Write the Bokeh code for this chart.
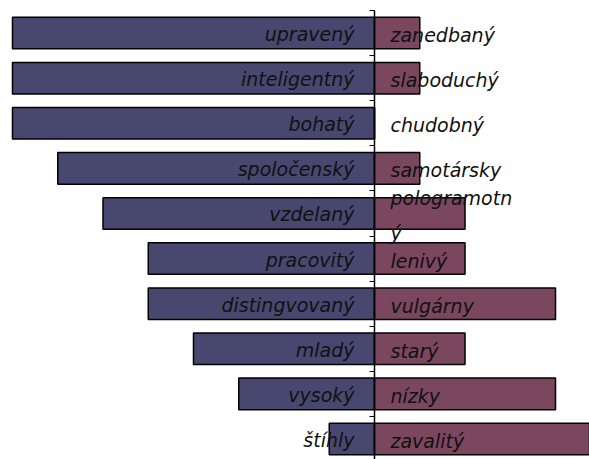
from bokeh.plotting import figure
from bokeh.models import ColumnDataSource, Range1d, LinearAxis, FixedTicker
from bokeh.core.properties import value
from bokeh.embed import file_html
from bokeh.resources import INLINE

positive_traits = ["upravený", "inteligentný", "bohatý", "spoločenský", "vzdelaný",
                   "pracovitý", "distingvovaný", "mladý", "vysoký", "štíhly"]
negative_traits = ["zanedbaný", "slaboduchý", "chudobný", "samotársky", "pologramotn\ný",
                   "lenivý", "vulgárny", "starý", "nízky", "zavalitý"]
positive_values = [8, 8, 8, 7, 6, 5, 5, 4, 3, 1]
negative_values = [1, 1, 0, 1, 2, 2, 4, 2, 4, 5]

n = len(positive_traits)
ys = [n - 1 - i for i in range(n)]

src = ColumnDataSource(dict(
    y=ys,
    left_end=[-v for v in positive_values],
    right_end=negative_values,
    zero=[0] * n,
    pos=positive_traits,
    neg=negative_traits,
))

p = figure(width=589, height=459, output_backend="svg", toolbar_location=None,
           x_range=Range1d(-8.265, 4.751), y_range=Range1d(-0.455, n - 0.5 + 0.222),
           min_border=0, outline_line_color=None)
p.xaxis.visible = False
p.yaxis.visible = False
p.xgrid.visible = False
p.ygrid.visible = False
p.background_fill_color = "white"
p.border_fill_color = "white"

p.hbar(y="y", left="left_end", right="zero", height=0.7, source=src,
       fill_color="#48476F", line_color="black", line_width=1.5)
p.hbar(y="y", left="zero", right="right_end", height=0.7, source=src,
       fill_color="#7A475E", line_color="black", line_width=1.5)

boundaries = [k - 0.5 for k in range(n + 1)]
ax = LinearAxis(fixed_location=0,
                ticker=FixedTicker(ticks=boundaries),
                major_label_overrides={b: "" for b in boundaries},
                major_tick_out=5, major_tick_in=0, minor_tick_out=0, minor_tick_in=0,
                axis_line_width=1.5,
                axis_line_color="black", major_tick_line_color="black",
                major_tick_line_width=1.2, bounds=(-0.5, n - 0.5))
p.add_layout(ax, "left")

p.text(x="zero", y="y", text="pos", source=src, text_align="right",
       text_baseline="middle", x_offset=-20, y_offset=1,
       text_font=value("DejaVu Sans"), text_font_style="italic",
       text_font_size="19px", text_color="#111111")
p.text(x="zero", y="y", text="neg", source=src, text_align="left",
       text_baseline="middle", x_offset=16, y_offset=2,
       text_font=value("DejaVu Sans"), text_font_style="italic",
       text_font_size="19px", text_color="#111111", text_line_height=1.6)

open("out.html", "w").write(file_html(p, INLINE))
